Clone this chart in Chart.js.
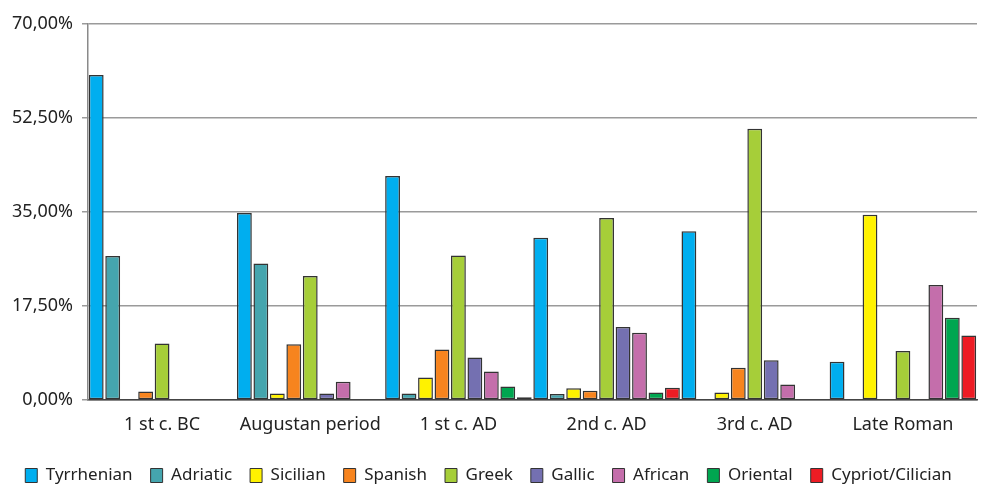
<!DOCTYPE html>
<html>
<head>
<meta charset="utf-8">
<script src="https://cdn.jsdelivr.net/npm/chart.js@4"></script>
<style>
  html, body { margin: 0; padding: 0; background: #fff; }
  #wrap { width: 989px; height: 484px; }
</style>
</head>
<body>
<div id="wrap"><canvas id="chart"></canvas></div>
<script>
const periods = ['1 st c. BC', 'Augustan period', '1 st c. AD', '2nd c. AD', '3rd c. AD', 'Late Roman'];

const tyrrhenian = [60.5, 34.8, 41.7, 30.2, 31.4, 7.1];
const adriatic   = [26.8, 25.4,  1.2,  1.1,  0,    0];
const sicilian   = [ 0,    1.2,  4.2,  2.2,  1.4, 34.5];
const spanish    = [ 1.6, 10.4,  9.4,  1.7,  6.0,  0];
const greek      = [10.5, 23.1, 26.9, 33.9, 50.5,  9.1];
const gallic     = [ 0,    1.2,  7.9, 13.6,  7.4,  0];
const african    = [ 0,    3.4,  5.3, 12.5,  2.9, 21.4];
const oriental   = [ 0,    0,    2.5,  1.4,  0,   15.3];
const cypriot    = [ 0,    0,    0.5,  2.3,  0,   12.0];

const yTicks = [0, 17.5, 35, 52.5, 70];

const FONT = 'Noto Sans';

function series(label, data, color) {
    return {
        label:           label,
        data:            data,
        backgroundColor: color,
        borderColor:     '#333',
        // zero shares get no outline, so nothing shows on the axis
        borderWidth:     ctx => (ctx.raw ? 1.5 : 0),
        borderSkipped:   false,
        barPercentage:   0.9,
        categoryPercentage: 1.0,
    };
}

new Chart(document.getElementById('chart').getContext('2d'), {
    type: 'bar',
    data: {
        labels: periods,
        datasets: [
            series('Tyrrhenian',      tyrrhenian, '#00aeef'),
            series('Adriatic',        adriatic,   '#45a5ae'),
            series('Sicilian',        sicilian,   '#fff200'),
            series('Spanish',         spanish,    '#f7841e'),
            series('Greek',           greek,      '#a6ce39'),
            series('Gallic',          gallic,     '#7470b1'),
            series('African',         african,    '#c46eab'),
            series('Oriental',        oriental,   '#00a650'),
            series('Cypriot/Cilician', cypriot,   '#ed1c24'),
        ]
    },
    options: {
        responsive:          true,
        maintainAspectRatio: false,
        animation:           false,
        layout: { padding: { left: 0, right: 12, top: 24, bottom: -10 } },
        plugins: {
            legend: {
                position: 'bottom',
                labels: {
                    color:     '#222',
                    font:      { family: FONT, size: 17 },
                    boxWidth:  12,
                    boxHeight: 14,
                    padding:   18,
                    generateLabels(chart) {
                        return chart.data.datasets.map((ds, i) => ({
                            text:        ds.label,
                            fillStyle:   ds.backgroundColor,
                            strokeStyle: '#333',
                            lineWidth:   1,
                            fontColor:   '#222',
                            datasetIndex: i,
                        }));
                    }
                }
            },
            tooltip: { enabled: false }
        },
        scales: {
            x: {
                afterFit(scale) { scale.height = 49; },
                grid:   { display: false },
                border: { color: '#444', width: 1.5 },
                ticks:  { color: '#222', font: { family: FONT, size: 18 }, padding: 6 },
            },
            y: {
                min: 0,
                max: 70,
                afterBuildTicks(scale) { scale.ticks = yTicks.map(v => ({ value: v })); },
                afterFit(scale) { scale.width = 88; },
                grid:   { color: '#9a9a9a', lineWidth: 1.5, tickLength: 6, drawTicks: true },
                border: { color: '#8a8a8a', width: 1.5 },
                ticks:  {
                    color:    '#222',
                    font:     { family: FONT, size: 18 },
                    padding:  9,
                    callback: v => v.toFixed(2).replace('.', ',') + '%'
                }
            }
        }
    }
});
</script>
</body>
</html>
